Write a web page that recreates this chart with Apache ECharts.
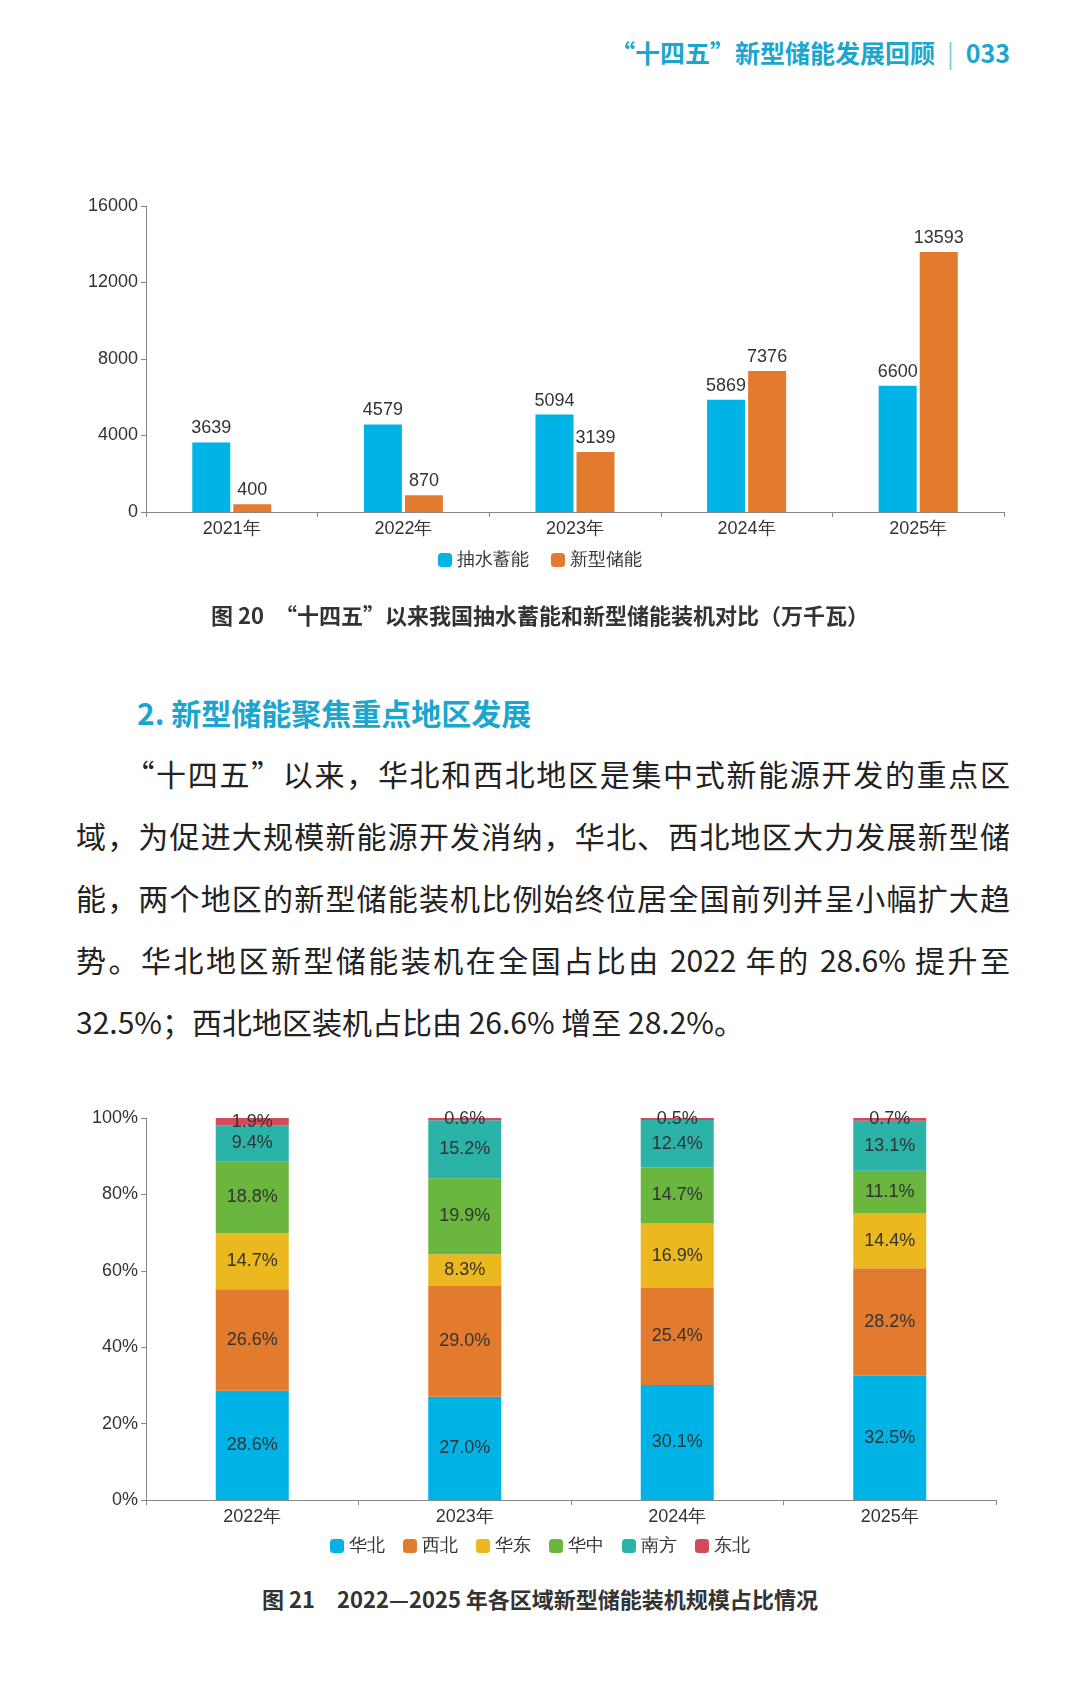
<!DOCTYPE html>
<html><head><meta charset="utf-8">
<script src="https://cdn.jsdelivr.net/npm/echarts@6/dist/echarts.min.js"></script>
<style>
body{margin:0;width:1080px;height:1707px;background:#fff;position:relative;font-family:"Noto Sans CJK SC","Noto Sans",sans-serif;overflow:hidden}
.abs{position:absolute}
#hdr{top:34px;right:70px;font-size:25px;font-weight:bold;color:#1ba6cf}
#hdr span{font-weight:normal;color:#7fcbe3;margin:0 12px}
.cap{left:0;width:1080px;text-align:center;font-size:22px;font-weight:bold;color:#333}
#h2{top:690px;left:137px;font-size:30px;font-weight:bold;color:#1ba6cf}
#para{top:742px;left:76px;width:934px;font-size:30px;line-height:62px;color:#222;text-align:justify;font-family:"Noto Sans CJK SC",serif}
</style></head><body>
<div id="hdr" class="abs">“十四五”新型储能发展回顾<span>|</span>033</div>
<div id="c1" class="abs" style="top:184px;left:0;width:1080px;height:420px"></div>
<div class="abs cap" style="top:598px">图 20　“十四五”以来我国抽水蓄能和新型储能装机对比（万千瓦）</div>
<div id="h2" class="abs">2. 新型储能聚焦重点地区发展</div>
<div id="para" class="abs">　　“十四五”以来，华北和西北地区是集中式新能源开发的重点区域，为促进大规模新能源开发消纳，华北、西北地区大力发展新型储能，两个地区的新型储能装机比例始终位居全国前列并呈小幅扩大趋势。华北地区新型储能装机在全国占比由 2022 年的 28.6% 提升至 32.5%；西北地区装机占比由 26.6% 增至 28.2%。</div>
<div id="c2" class="abs" style="top:1100px;left:0;width:1080px;height:470px"></div>
<div class="abs cap" style="top:1582px">图 21　2022—2025 年各区域新型储能装机规模占比情况</div>
<script>
const years1 = ['2021年','2022年','2023年','2024年','2025年'];
const pumped = [3639,4579,5094,5869,6600];
const newStorage = [400,870,3139,7376,13593];
const years2 = ['2022年','2023年','2024年','2025年'];
const regions = ['华北','西北','华东','华中','南方','东北'];
const regionColors = ['#00b3e6','#e37b2f','#ebb81f','#6bb63f','#2bb3a8','#d54a5b'];
const shares = [
  [28.6,27.0,30.1,32.5],
  [26.6,29.0,25.4,28.2],
  [14.7,8.3,16.9,14.4],
  [18.8,19.9,14.7,11.1],
  [9.4,15.2,12.4,13.1],
  [1.9,0.6,0.5,0.7]
];
const axisTxt = {color:'#333',fontSize:18};
const axisLn = {show:true,lineStyle:{color:'#888'}};

const c1 = echarts.init(document.getElementById('c1'));
c1.setOption({
  animation:false,
  grid:{left:146,right:76,top:22,bottom:92},
  legend:{bottom:30,itemWidth:14,itemHeight:14,itemGap:22,textStyle:{fontSize:18,color:'#333'},
    data:['抽水蓄能','新型储能']},
  xAxis:{type:'category',data:years1,axisLine:axisLn,axisTick:{show:true,lineStyle:{color:'#888'}},axisLabel:axisTxt},
  yAxis:{type:'value',min:0,max:16000,interval:4000,axisLine:axisLn,axisTick:{show:true,lineStyle:{color:'#888'}},splitLine:{show:false},
    axisLabel:Object.assign({formatter:v=>String(v)},axisTxt)},
  series:[
    {name:'抽水蓄能',type:'bar',data:pumped,barWidth:38,barGap:'8%',itemStyle:{color:'#00b3e6'},
     label:{show:true,position:'top',fontSize:18,color:'#333'}},
    {name:'新型储能',type:'bar',data:newStorage,barWidth:38,itemStyle:{color:'#e37b2f'},
     label:{show:true,position:'top',fontSize:18,color:'#333'}}
  ]
});

const c2 = echarts.init(document.getElementById('c2'));
c2.setOption({
  animation:false,
  grid:{left:146,right:84,top:18,bottom:70},
  legend:{bottom:10,itemWidth:14,itemHeight:14,itemGap:18,textStyle:{fontSize:18,color:'#333'},data:regions},
  xAxis:{type:'category',data:years2,axisLine:axisLn,axisTick:{show:true,lineStyle:{color:'#888'}},axisLabel:axisTxt},
  yAxis:{type:'value',min:0,max:100,interval:20,axisLine:axisLn,axisTick:{show:true,lineStyle:{color:'#888'}},splitLine:{show:false},
    axisLabel:Object.assign({formatter:'{value}%'},axisTxt)},
  series:regions.map((r,i)=>({
    name:r,type:'bar',stack:'s',data:shares[i],barWidth:73,itemStyle:{color:regionColors[i]},
    label:{show:true,position:'inside',fontSize:18,color:'#333',formatter:p=>p.value.toFixed(1)+'%'}
  }))
});
</script>
</body></html>
